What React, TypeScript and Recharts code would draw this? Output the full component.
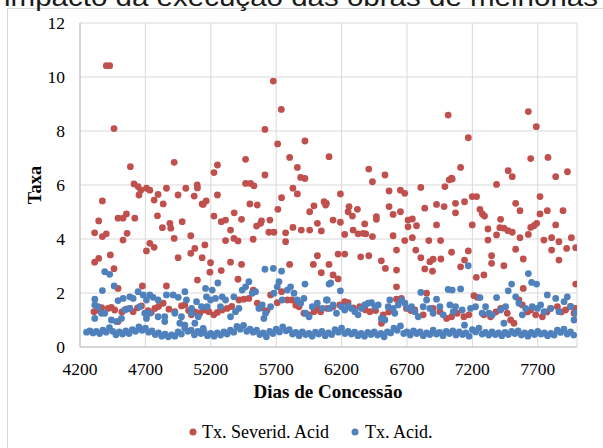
import React from 'react';
import { ScatterChart, Scatter, XAxis, YAxis, CartesianGrid } from 'recharts';

const chartTitle = 'impacto da execução das obras de melhorias';
const xTitle = 'Dias de Concessão';
const yTitle = 'Taxa';
const seriesNames = ['Tx. Severid. Acid', 'Tx. Acid.'];
const xTicks = [4200, 4700, 5200, 5700, 6200, 6700, 7200, 7700];
const yTicks = [0, 2, 4, 6, 8, 10, 12];

type P = [number, number];

// Tx. Severid. Acid — scattered upper points
const severidHigh: P[] = [
  [4312, 4.23], [4312, 3.14], [4343, 4.67], [4343, 3.28], [4371, 5.41], [4371, 4.09], [4401, 10.42], [4401, 4.19],
  [4427, 10.42], [4432, 3.41], [4460, 8.09], [4460, 2.9], [4491, 4.77], [4491, 2.17], [4529, 4.77], [4529, 3.96],
  [4555, 4.93], [4560, 4.21], [4585, 6.68], [4613, 6.04], [4619, 4.77], [4644, 5.94], [4651, 5.63], [4665, 5.81],
  [4677, 2.26], [4708, 5.88], [4708, 3.56], [4734, 5.81], [4734, 3.84], [4767, 5.44], [4767, 3.69], [4792, 4.86],
  [4797, 5.65], [4830, 4.42], [4836, 5.3], [4861, 5.88], [4861, 2.26], [4887, 4.58], [4894, 4.4], [4920, 6.84],
  [4920, 4.02], [4950, 5.63], [4950, 3.31], [4981, 4.64], [5009, 5.88], [5047, 4.12], [5047, 3.47], [5073, 5.59],
  [5078, 3.65], [5096, 6.0], [5098, 5.89], [5098, 2.48], [5134, 5.3], [5134, 3.31], [5155, 3.78],
  [5142, 5.28], [5165, 5.41], [5193, 2.77], [5198, 3.12], [5224, 6.46], [5224, 4.85], [5251, 6.74], [5251, 5.63],
  [5280, 4.64], [5280, 2.83], [5313, 4.7], [5313, 3.94], [5351, 4.33], [5351, 3.14], [5377, 4.02], [5379, 4.97],
  [5408, 3.93], [5408, 2.51], [5435, 4.73], [5435, 3.06], [5466, 6.95], [5466, 6.06], [5499, 5.3], [5504, 6.06],
  [5524, 3.99], [5530, 5.97], [5550, 4.48], [5555, 5.26], [5581, 4.58], [5588, 4.67], [5614, 8.06], [5614, 6.37],
  [5644, 4.25], [5652, 4.7], [5678, 9.85], [5683, 4.25], [5711, 7.52], [5713, 5.1], [5739, 8.8], [5741, 5.53],
  [5772, 4.23], [5772, 3.9], [5803, 7.02], [5803, 3.06], [5828, 5.88], [5828, 4.43], [5862, 6.65], [5862, 5.67],
  [5887, 6.28], [5892, 4.33], [5920, 7.63], [5920, 6.24], [5956, 5.01], [5956, 4.33], [5984, 3.06], [5989, 5.23],
  [6015, 4.58], [6015, 3.38], [6045, 4.3], [6045, 2.75], [6066, 5.38], [6078, 5.26], [6104, 7.05], [6104, 3.06],
  [6084, 5.32], [6135, 4.7], [6135, 2.67], [6173, 3.44], [6173, 2.52], [6191, 5.67], [6191, 4.62], [6224, 4.17],
  [6224, 3.44], [6250, 5.01], [6257, 5.2], [6283, 4.85], [6288, 4.33], [6321, 5.1], [6326, 4.19], [6346, 3.34],
  [6365, 4.21], [6377, 4.56], [6385, 4.19], [6408, 6.59], [6408, 3.38], [6436, 6.12], [6436, 4.09], [6466, 4.83],
  [6466, 4.73], [6504, 3.19], [6532, 6.37], [6535, 2.91], [6563, 5.78], [6563, 5.2], [6594, 4.91], [6594, 4.12],
  [6620, 3.59], [6620, 2.85], [6620, 2.23], [6650, 5.81], [6650, 5.01], [6683, 5.69], [6683, 3.94], [6708, 4.7],
  [6708, 4.45], [6741, 4.74], [6741, 4.05], [6767, 3.59], [6773, 4.49], [6806, 5.91], [6806, 3.31], [6836, 5.14],
  [6836, 2.89], [6867, 3.94], [6875, 3.16], [6895, 2.81], [6900, 3.25], [6926, 5.28], [6926, 4.52], [6957, 3.94],
  [6959, 3.26], [6984, 5.2], [6990, 5.94], [7015, 8.59], [7023, 6.19], [7041, 6.25], [7041, 3.51],
  [7046, 6.22], [7071, 5.32], [7071, 4.97], [7110, 6.65], [7110, 2.97], [7140, 5.38], [7140, 3.22], [7169, 7.75],
  [7169, 3.56], [7199, 5.57], [7199, 4.52], [7230, 2.58], [7232, 5.57], [7258, 5.1], [7276, 4.93], [7288, 2.67],
  [7293, 4.85], [7319, 4.37], [7319, 3.96], [7347, 3.38], [7347, 3.1], [7385, 6.02], [7385, 4.15], [7410, 4.42],
  [7416, 4.73], [7441, 4.4], [7441, 3.01], [7472, 4.31], [7474, 6.53], [7505, 6.31], [7505, 4.25], [7531, 5.32],
  [7531, 3.62], [7564, 5.05], [7564, 4.05], [7589, 3.26], [7589, 2.17], [7628, 8.72], [7628, 4.17], [7646, 6.98],
  [7646, 4.43], [7671, 4.49], [7689, 8.16], [7692, 4.58], [7717, 5.57], [7717, 4.93], [7747, 3.96], [7773, 5.05],
  [7778, 7.02], [7806, 4.05], [7806, 3.59], [7837, 6.31], [7837, 4.52], [7862, 3.9], [7862, 3.22], [7893, 5.05],
  [7921, 3.65], [7927, 6.49], [7957, 4.05], [7990, 3.68], [7990, 2.33],
];

// Tx. Severid. Acid — lower band
const severidLow: P[] = [
  [4307, 1.31], [4338, 1.37], [4365, 1.46], [4414, 1.43], [4440, 1.47], [4465, 1.37], [4491, 0.94], [4520, 1.3],
  [4555, 1.4], [4580, 1.43], [4606, 1.31], [4640, 1.45], [4670, 1.52], [4720, 1.35], [4745, 1.28], [4772, 1.43],
  [4800, 1.5], [4836, 1.62], [4880, 1.4], [4925, 1.31], [4976, 1.52], [5001, 1.56], [5030, 1.35], [5052, 1.19],
  [5080, 1.3], [5116, 1.25], [5155, 1.37], [5185, 1.31], [5223, 1.19], [5250, 1.28], [5287, 1.37], [5325, 1.43],
  [5360, 1.5], [5415, 1.74], [5453, 1.77], [5491, 1.8], [5524, 2.11], [5555, 1.62], [5590, 1.45], [5630, 1.35],
  [5657, 1.93], [5708, 1.64], [5741, 2.05], [5785, 1.74], [5818, 1.74], [5850, 1.55], [5874, 1.49], [5912, 1.25],
  [5951, 1.19], [5989, 1.31], [6020, 1.4], [6040, 1.31], [6091, 1.43], [6135, 1.49], [6186, 1.56], [6224, 1.68],
  [6250, 1.64], [6290, 1.45], [6339, 1.49], [6380, 1.38], [6416, 1.31], [6460, 1.35], [6505, 0.88], [6518, 1.19],
  [6560, 1.3], [6620, 1.77], [6658, 1.8], [6696, 1.43], [6730, 1.35], [6760, 1.37], [6824, 1.19], [6850, 1.99],
  [6900, 1.43], [6952, 1.31], [7003, 1.06], [7041, 1.12], [7084, 1.25], [7135, 1.12], [7173, 1.19], [7212, 1.9],
  [7237, 1.84], [7288, 1.19], [7339, 1.12], [7380, 1.3], [7416, 1.43], [7467, 1.25], [7492, 1.0], [7518, 0.88],
  [7556, 1.74], [7582, 1.56], [7620, 1.3], [7646, 1.37], [7684, 1.19], [7735, 1.12], [7770, 1.3], [7798, 1.43],
  [7850, 1.49], [7880, 1.3], [7913, 1.37], [7950, 1.5], [7977, 1.25], [7990, 1.43],
];

// Tx. Acid. — lower band
const acidLow: P[] = [
  [4250, 0.55], [4275, 0.6], [4300, 0.52], [4325, 0.58], [4350, 0.5], [4375, 0.62], [4400, 0.55], [4425, 0.72],
  [4450, 0.58], [4475, 0.45], [4500, 0.56], [4525, 0.48], [4550, 0.6], [4575, 0.5], [4600, 0.64], [4625, 0.58],
  [4650, 0.74], [4675, 0.62], [4700, 0.7], [4725, 0.55], [4750, 0.6], [4775, 0.46], [4800, 0.52], [4825, 0.4],
  [4850, 0.48], [4875, 0.38], [4900, 0.45], [4925, 0.4], [4950, 0.56], [4975, 0.48], [5000, 0.7], [5025, 0.58],
  [5050, 0.62], [5075, 0.45], [5100, 0.58], [5125, 0.5], [5150, 0.55], [5175, 0.42], [5200, 0.5], [5225, 0.4],
  [5250, 0.52], [5275, 0.44], [5300, 0.56], [5325, 0.48], [5350, 0.62], [5375, 0.55], [5400, 0.76], [5425, 0.66],
  [5450, 0.8], [5475, 0.58], [5500, 0.66], [5525, 0.55], [5550, 0.62], [5575, 0.46], [5600, 0.52], [5625, 0.38],
  [5650, 0.58], [5675, 0.5], [5700, 0.66], [5725, 0.56], [5750, 0.74], [5775, 0.6], [5800, 0.64], [5825, 0.48],
  [5850, 0.54], [5875, 0.42], [5900, 0.56], [5925, 0.46], [5950, 0.5], [5975, 0.4], [6000, 0.55], [6025, 0.48],
  [6050, 0.58], [6075, 0.42], [6100, 0.52], [6125, 0.46], [6150, 0.64], [6175, 0.55], [6200, 0.7], [6225, 0.5],
  [6250, 0.58], [6275, 0.48], [6300, 0.55], [6325, 0.42], [6350, 0.5], [6375, 0.4], [6400, 0.54], [6425, 0.46],
  [6450, 0.56], [6475, 0.44], [6500, 0.5], [6525, 0.38], [6550, 0.56], [6575, 0.52], [6600, 0.7], [6625, 0.62],
  [6650, 0.78], [6675, 0.5], [6700, 0.56], [6725, 0.44], [6750, 0.6], [6775, 0.5], [6800, 0.56], [6825, 0.42],
  [6850, 0.52], [6875, 0.46], [6900, 0.62], [6925, 0.48], [6950, 0.54], [6975, 0.42], [7000, 0.58], [7025, 0.5],
  [7050, 0.6], [7075, 0.44], [7100, 0.56], [7125, 0.46], [7150, 0.52], [7175, 0.4], [7200, 0.64], [7225, 0.56],
  [7250, 0.7], [7275, 0.48], [7300, 0.54], [7325, 0.44], [7350, 0.56], [7375, 0.46], [7400, 0.52], [7425, 0.42],
  [7450, 0.54], [7475, 0.46], [7500, 0.58], [7525, 0.5], [7550, 0.6], [7575, 0.44], [7600, 0.52], [7625, 0.4],
  [7650, 0.54], [7675, 0.46], [7700, 0.58], [7725, 0.48], [7750, 0.52], [7775, 0.42], [7800, 0.5], [7825, 0.44],
  [7850, 0.62], [7875, 0.54], [7900, 0.66], [7925, 0.48], [7950, 0.56], [7975, 0.44],
];

// Tx. Acid. — upper band
const acidHigh: P[] = [
  [4313, 1.77], [4313, 1.56], [4313, 1.06], [4338, 1.49], [4364, 1.25], [4389, 1.25], [4389, 2.79], [4427, 2.69],
  [4371, 2.09], [4461, 2.26], [4440, 1.0], [4478, 0.94], [4491, 1.72], [4517, 1.06], [4530, 1.8], [4542, 1.37],
  [4581, 1.86], [4581, 1.43], [4606, 1.8], [4644, 2.05], [4657, 1.49], [4683, 1.93], [4695, 1.25], [4708, 1.74],
  [4708, 1.06], [4734, 1.93], [4734, 1.25], [4759, 1.84], [4797, 1.74], [4797, 1.12], [4848, 1.12], [4848, 0.94],
  [4861, 1.93], [4912, 1.93], [4925, 1.25], [4951, 1.84], [4963, 0.88], [4976, 1.12], [5002, 2.05], [5002, 0.81],
  [5014, 1.74], [5053, 1.43], [5053, 1.25], [5078, 0.88], [5091, 1.68], [5104, 1.12], [5129, 1.49], [5142, 0.69],
  [5167, 1.86],
  [5160, 2.17], [5211, 2.11], [5254, 2.37], [5172, 1.49], [5198, 1.74], [5236, 1.8], [5274, 1.49], [5287, 1.86],
  [5313, 1.74], [5351, 1.12], [5376, 1.86], [5389, 1.31], [5415, 1.43], [5440, 2.11], [5466, 2.23], [5491, 2.42],
  [5517, 1.99], [5542, 2.05], [5568, 1.43], [5593, 1.56], [5606, 1.06], [5619, 1.25], [5657, 1.49], [5683, 1.99],
  [5708, 2.23], [5721, 2.42], [5746, 1.74], [5785, 2.11], [5810, 2.23], [5836, 1.99], [5861, 1.74], [5887, 1.62],
  [5912, 1.8], [5925, 1.25], [5951, 1.12], [5976, 1.49], [6014, 1.62], [6053, 1.43], [6091, 1.74], [6117, 2.37],
  [5614, 2.88], [5678, 2.91], [5741, 2.81], [5920, 2.33],
  [6104, 2.33], [6191, 2.08], [6084, 1.74], [6110, 1.43], [6135, 1.56], [6161, 1.25], [6199, 1.49], [6224, 1.37],
  [6250, 1.52], [6275, 1.43], [6301, 1.31], [6326, 1.19], [6352, 1.43], [6377, 1.56], [6403, 1.62], [6429, 1.64],
  [6454, 1.49], [6480, 1.56], [6505, 1.06], [6531, 1.0], [6556, 1.49], [6569, 1.74], [6594, 1.43], [6607, 1.25],
  [6633, 1.56], [6658, 1.74], [6684, 1.62], [6709, 1.43], [6735, 1.49], [6760, 1.31], [6786, 1.12], [6806, 2.02],
  [6824, 1.49], [6850, 1.74], [6875, 1.43], [6900, 1.25], [6926, 1.77], [6952, 1.49], [6977, 1.19], [7015, 2.13],
  [7028, 1.56], [7054, 1.31],
  [7046, 2.11], [7071, 1.49], [7110, 2.15], [7122, 1.37], [7140, 0.81], [7168, 3.01], [7186, 1.43], [7224, 1.49],
  [7258, 1.83], [7275, 1.25], [7301, 1.49], [7326, 1.25], [7352, 1.19], [7385, 1.83], [7416, 1.37], [7441, 0.88],
  [7454, 1.49], [7474, 2.08], [7500, 2.33], [7531, 1.86], [7556, 1.62], [7582, 1.19], [7607, 1.43], [7628, 2.72],
  [7653, 2.39], [7691, 2.33], [7658, 1.49], [7697, 1.43], [7722, 1.56], [7748, 1.31], [7773, 1.93], [7799, 1.43],
  [7837, 1.8], [7862, 1.31], [7901, 1.68], [7926, 1.86], [7952, 1.49], [7977, 1.0], [7990, 1.25],
];

const toPts = (arr: P[]) => arr.map(([dia, taxa]) => ({ dia, taxa }));
const severidData = toPts([...severidHigh, ...severidLow]);
const acidData = toPts([...acidLow, ...acidHigh]);

const RED = '#C0504D';
const BLUE = '#4F81BD';
const SERIF = '"Liberation Serif", "Times New Roman", Times, serif';

const makeDot = (color: string) => (props: any) => (
  <circle cx={props.cx} cy={props.cy} r={3.4} fill={color} />
);

export default function App() {
  return (
    <div
      style={{
        position: 'fixed',
        left: 0,
        top: 0,
        width: 603,
        height: 448,
        overflow: 'hidden',
        background: '#ffffff',
      }}
    >
      <div
        style={{
          position: 'absolute',
          left: 7,
          top: 8,
          width: 700,
          height: 600,
          borderLeft: '1px solid #d9d9d9',
          borderTop: '1px solid #d9d9d9',
        }}
      />
      <div style={{ position: 'absolute', left: 0, top: 0 }}>
        <ScatterChart width={603} height={448} margin={{ top: 23, right: 26, bottom: 71, left: 40 }}>
          <CartesianGrid stroke="#d9d9d9" strokeWidth={1} />
          <XAxis
            type="number"
            dataKey="dia"
            domain={[4200, 8000]}
            ticks={xTicks}
            interval={0}
            allowDataOverflow
            height={30}
            tickSize={0}
            tickMargin={16}
            tickLine={false}
            axisLine={{ stroke: '#bfbfbf' }}
            tick={{ fill: '#000', fontSize: 17.5, fontFamily: SERIF }}
          />
          <YAxis
            type="number"
            dataKey="taxa"
            domain={[0, 12]}
            ticks={yTicks}
            interval={0}
            allowDataOverflow
            width={40}
            tickSize={0}
            tickMargin={15}
            tickLine={false}
            axisLine={{ stroke: '#bfbfbf' }}
            tick={{ fill: '#000', fontSize: 17.5, fontFamily: SERIF }}
          />
          <Scatter
            name={seriesNames[0]}
            data={severidData}
            fill={RED}
            shape={makeDot(RED)}
            isAnimationActive={false}
          />
          <Scatter
            name={seriesNames[1]}
            data={acidData}
            fill={BLUE}
            shape={makeDot(BLUE)}
            isAnimationActive={false}
          />
        </ScatterChart>
      </div>
      <svg
        width={603}
        height={448}
        style={{ position: 'absolute', left: 0, top: 0, pointerEvents: 'none' }}
      >
        <text
          x={4}
          y={6}
          fontSize={26}
          fontFamily='"Liberation Sans", Arial, sans-serif'
          fill="#1a1a1a"
          textLength={594}
          lengthAdjust="spacingAndGlyphs"
        >
          {chartTitle}
        </text>
        <text
          x={41}
          y={185}
          transform="rotate(-90 41 185)"
          textAnchor="middle"
          fontSize={18.5}
          fontWeight="bold"
          fontFamily={SERIF}
          fill="#000"
        >
          {yTitle}
        </text>
        <text
          x={328}
          y={398}
          textAnchor="middle"
          fontSize={19}
          fontWeight="bold"
          fontFamily={SERIF}
          fill="#000"
        >
          {xTitle}
        </text>
        <circle cx={193} cy={432} r={3.5} fill={RED} />
        <text x={202} y={438} fontSize={18} fontFamily={SERIF} fill="#000">
          {seriesNames[0]}
        </text>
        <circle cx={355} cy={432} r={3.5} fill={BLUE} />
        <text x={365} y={438} fontSize={18} fontFamily={SERIF} fill="#000">
          {seriesNames[1]}
        </text>
      </svg>
    </div>
  );
}
